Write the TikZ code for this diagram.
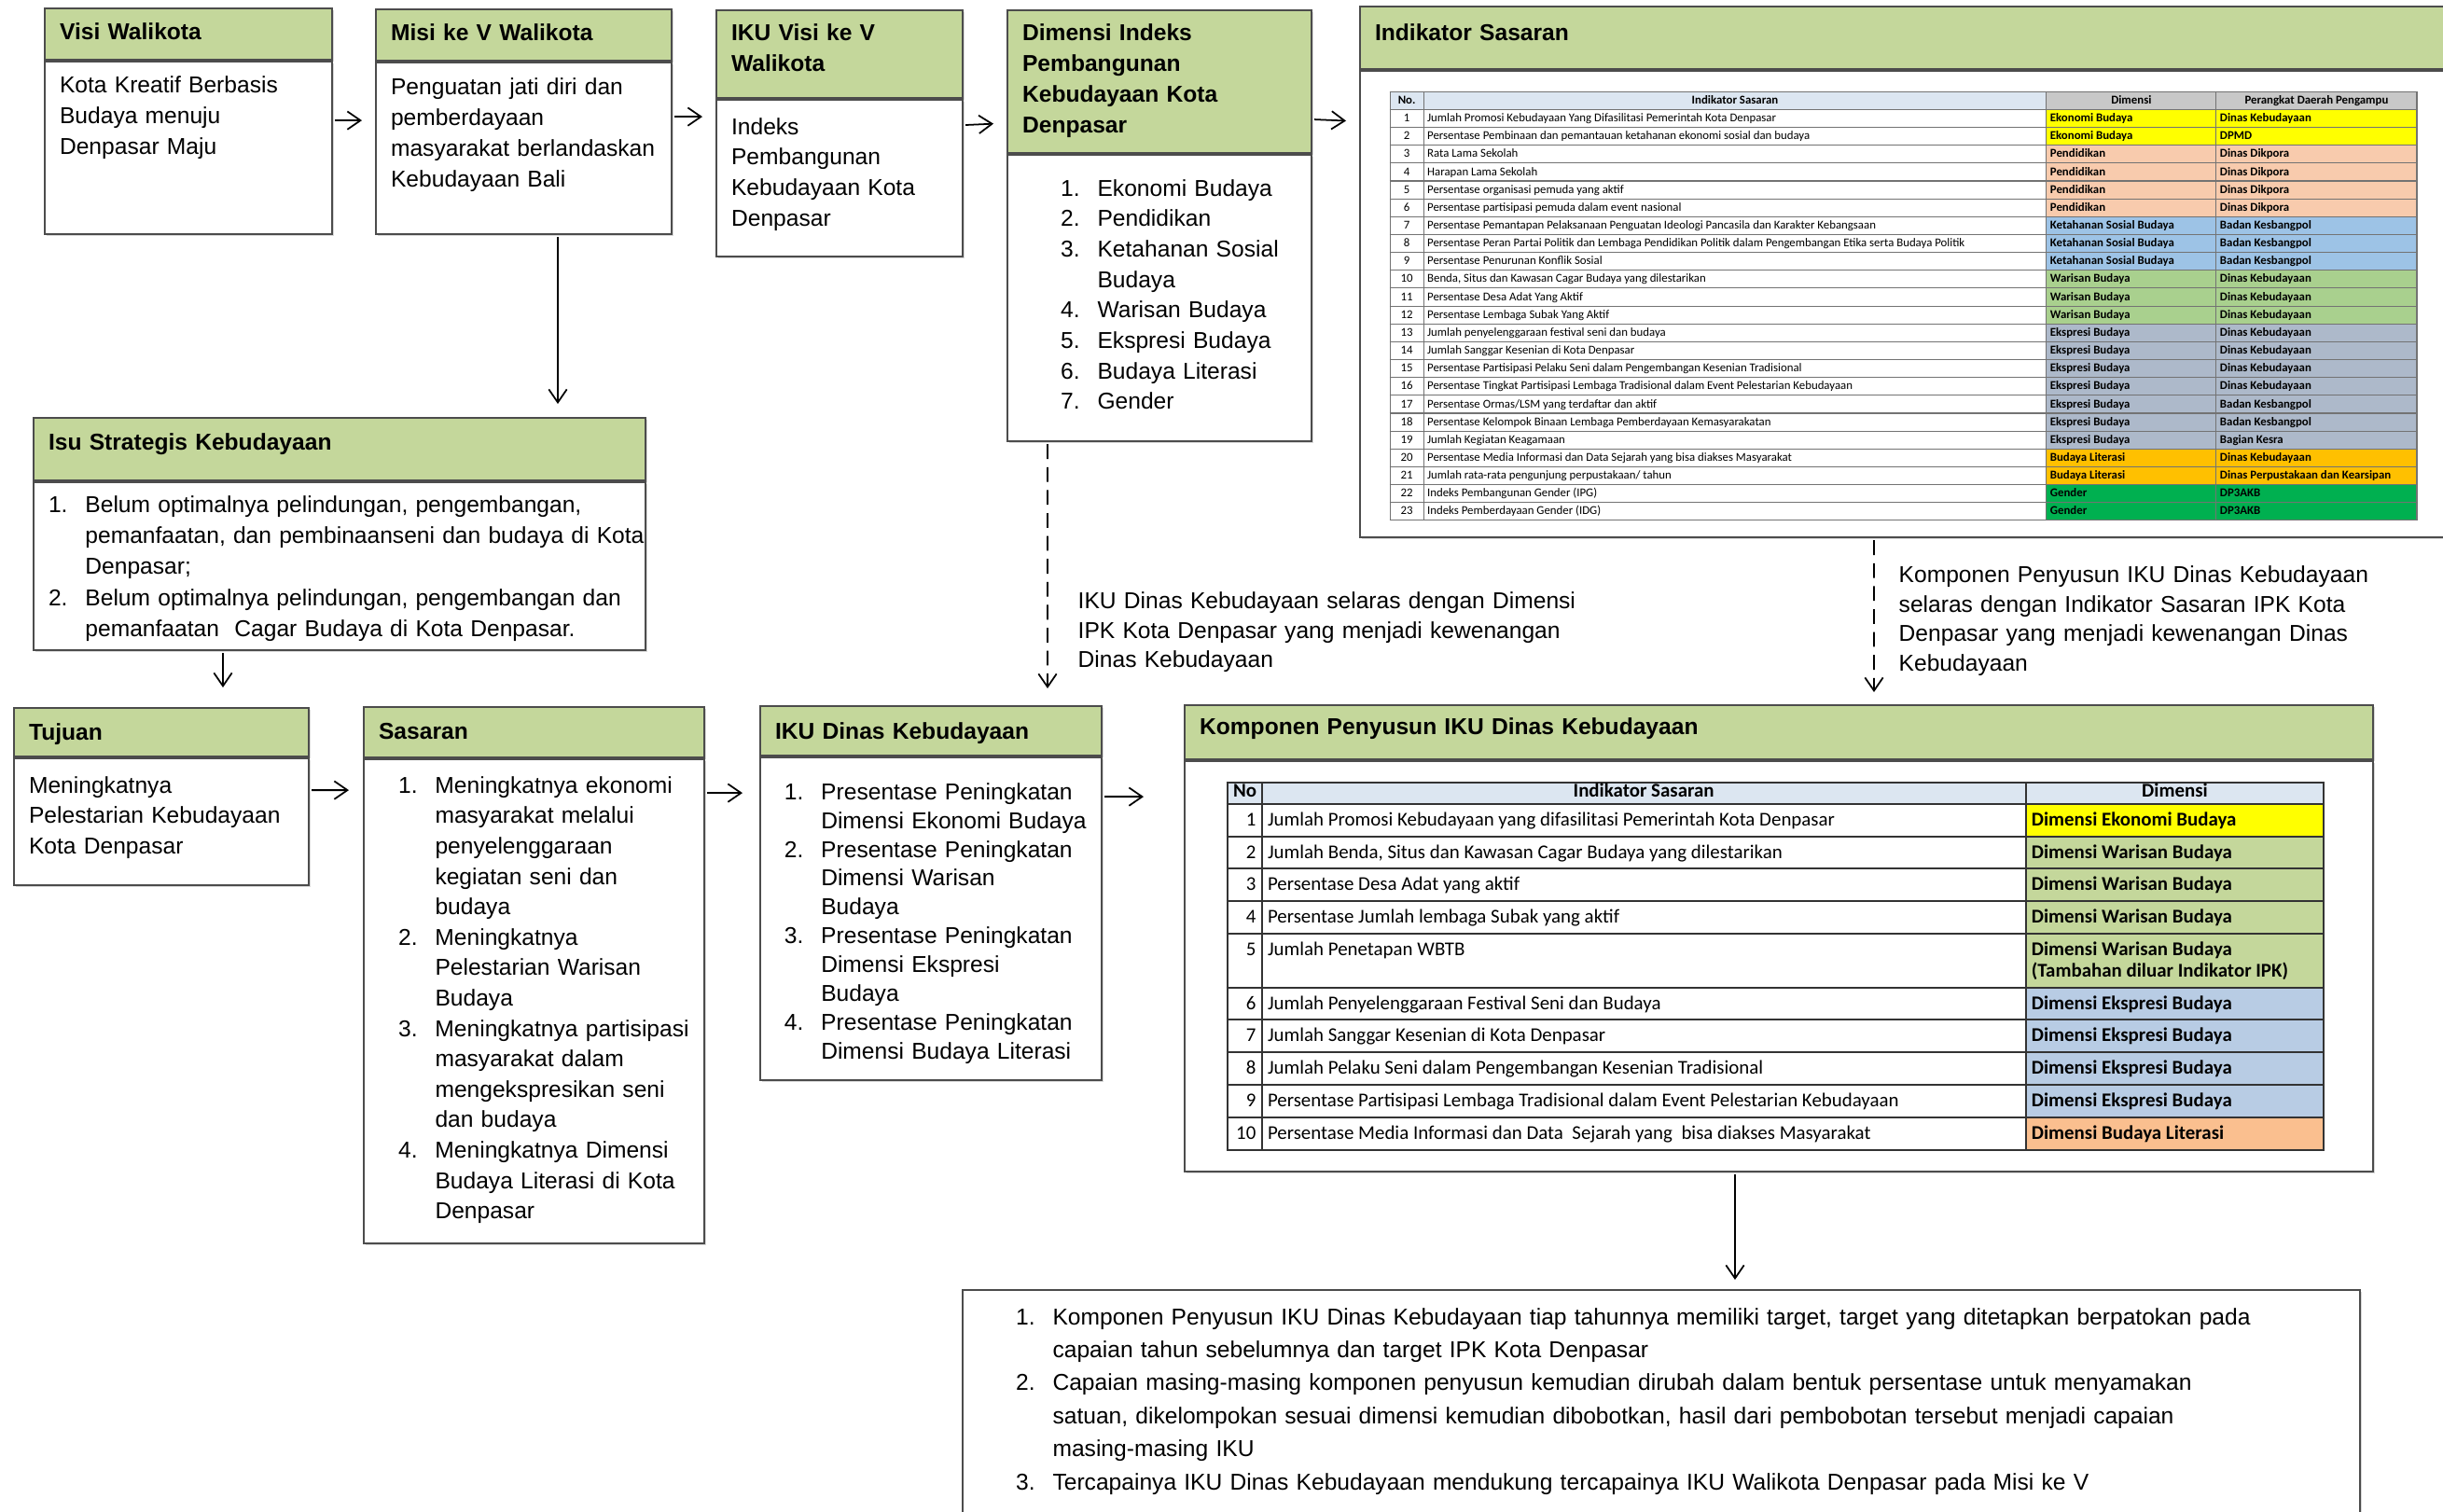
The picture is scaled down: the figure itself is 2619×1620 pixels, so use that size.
\documentclass[tikz,border=0pt]{standalone}
\usepackage{fontspec}
\setmainfont{Liberation Sans}
\newfontfamily\calfont{Carlito}
\usepackage{array}
\usepackage{colortbl}
\usetikzlibrary{positioning,arrows.meta,shadows}

\definecolor{hdgreen}{HTML}{C4D79B}
\definecolor{thead}{HTML}{DCE6F1}
\definecolor{tgray}{HTML}{C8C8C8}
\definecolor{ekon}{HTML}{FFFF00}
\definecolor{pend}{HTML}{F8CBAD}
\definecolor{ketah}{HTML}{9DC3E6}
\definecolor{waris}{HTML}{A9D08E}
\definecolor{ekspr}{HTML}{ADB9CA}
\definecolor{liter}{HTML}{FFC000}
\definecolor{gend}{HTML}{00B050}
\definecolor{warisB}{HTML}{C4D79B}
\definecolor{eksprB}{HTML}{B8CCE4}
\definecolor{literB}{HTML}{FABF8F}

\newlength\lind
\newcommand\itm[1]{\hspace*{\lind}\makebox[11.2pt][l]{#1}}
\newcommand\itc{\hspace*{\lind}\hspace*{11.2pt}}
\newcolumntype{C}[1]{>{\centering\arraybackslash}p{#1}}
\newcolumntype{R}[1]{>{\raggedleft\arraybackslash}p{#1}}
\newcommand\dcells[3]{\cellcolor{#1}\textbf{#2} & \cellcolor{#1}\textbf{#3}}
\newcommand\rowB{\rule[-2.9pt]{0pt}{9.3pt}}

\tikzstyle{hd} = [rectangle, draw=black!70, line width=0.6pt, fill=hdgreen, anchor=north west, inner xsep=1.6mm, inner ysep=0pt, align=left, font=\bfseries\fontsize{7}{9.4}\selectfont, drop shadow={shadow xshift=0.6pt, shadow yshift=-0.6pt, opacity=0.3}, execute at begin node={\rightskip=-6mm plus 1fil}]
\tikzstyle{bd} = [hd, fill=white, font=\fontsize{7}{9.4}\selectfont]
\tikzstyle{note} = [anchor=north west, inner sep=0pt, align=left, text height=2mm, font=\fontsize{7}{9}\selectfont]
\tikzstyle{arrow} = [line width=0.5pt, ->, >={Straight Barb[length=4pt,width=5.5pt]}, shorten <=0.2mm]
\tikzstyle{darrow} = [arrow, dash pattern=on 4.5pt off 2.5pt]

\begin{document}
\begin{tikzpicture}[x=0.1mm, y=-0.1mm]
\useasboundingbox (0,0) rectangle (2619,1620);

% baris atas
\node (visiH) [hd, text width=27.6mm, text height=3.3mm, text depth=2.2mm] at (47,8) {Visi Walikota};
\node (visiB) [bd, below=0pt of visiH, text width=27.6mm, text height=3.3mm, text depth=15.2mm] {Kota Kreatif Berbasis\\Budaya menuju\\Denpasar Maju};

\node (misiH) [hd, text width=28.5mm, text height=3.3mm, text depth=2.2mm] at (402,9) {Misi ke V Walikota};
\node (misiB) [bd, below=0pt of misiH, text width=28.5mm, text height=3.4mm, text depth=15mm] {Penguatan jati diri dan\\pemberdayaan\\masyarakat berlandaskan\\Kebudayaan Bali};

\node (ikuvH) [hd, text width=23.2mm, text height=3.2mm, text depth=6.2mm] at (767,10) {IKU Visi ke V\\Walikota};
\node (ikuvB) [bd, below=0pt of ikuvH, text width=23.2mm, text height=3.7mm, text depth=13.1mm, font=\fontsize{7}{9.3}\selectfont] {Indeks\\Pembangunan\\Kebudayaan Kota\\Denpasar};

\node (dimH) [hd, text width=29.4mm, text height=3.2mm, text depth=12.1mm] at (1079,10) {Dimensi Indeks\\Pembangunan\\Kebudayaan Kota\\Denpasar};
\node (dimB) [bd, below=0pt of dimH, text width=29.4mm, text height=4.4mm, text depth=26.3mm, font=\fontsize{7}{9.3}\selectfont] {\setlength\lind{11.7pt}\itm{1.}Ekonomi Budaya\\\itm{2.}Pendidikan\\\itm{3.}Ketahanan Sosial\\\itc Budaya\\\itm{4.}Warisan Budaya\\\itm{5.}Ekspresi Budaya\\\itm{6.}Budaya Literasi\\\itm{7.}Gender};

\node (indH) [hd, text width=113.4mm, text height=3.6mm, text depth=3.1mm] at (1457,6) {Indikator Sasaran};
\node (indB) [bd, below=0pt of indH, text width=113.4mm, text height=0pt, text depth=50mm] {};

\node (tblA) [anchor=north west, inner sep=0pt, font=\calfont\fontsize{3.65}{5.15}\selectfont] at (1489,97) {%
\setlength\tabcolsep{1pt}\setlength\arrayrulewidth{0.3pt}\arrayrulecolor{black!55}%
\begin{tabular}{|C{7.9pt}|p{187.7pt}|p{49.5pt}|p{58.9pt}|}
\hline
\cellcolor{thead}\textbf{No.} & \multicolumn{1}{c|}{\cellcolor{thead}\textbf{Indikator Sasaran}} & \multicolumn{1}{c|}{\cellcolor{tgray}\textbf{Dimensi}} & \multicolumn{1}{c|}{\cellcolor{tgray}\textbf{Perangkat Daerah Pengampu}}\\\hline
1 & Jumlah Promosi Kebudayaan Yang Difasilitasi Pemerintah Kota Denpasar & \dcells{ekon}{Ekonomi Budaya}{Dinas Kebudayaan}\\\hline
2 & Persentase Pembinaan dan pemantauan ketahanan ekonomi sosial dan budaya & \dcells{ekon}{Ekonomi Budaya}{DPMD}\\\hline
3 & Rata Lama Sekolah & \dcells{pend}{Pendidikan}{Dinas Dikpora}\\\hline
4 & Harapan Lama Sekolah & \dcells{pend}{Pendidikan}{Dinas Dikpora}\\\hline
5 & Persentase organisasi pemuda yang aktif & \dcells{pend}{Pendidikan}{Dinas Dikpora}\\\hline
6 & Persentase partisipasi pemuda dalam event nasional & \dcells{pend}{Pendidikan}{Dinas Dikpora}\\\hline
7 & Persentase Pemantapan Pelaksanaan Penguatan Ideologi Pancasila dan Karakter Kebangsaan & \dcells{ketah}{Ketahanan Sosial Budaya}{Badan Kesbangpol}\\\hline
8 & Persentase Peran Partai Politik dan Lembaga Pendidikan Politik dalam Pengembangan Etika serta Budaya Politik & \dcells{ketah}{Ketahanan Sosial Budaya}{Badan Kesbangpol}\\\hline
9 & Persentase Penurunan Konflik Sosial & \dcells{ketah}{Ketahanan Sosial Budaya}{Badan Kesbangpol}\\\hline
10 & Benda, Situs dan Kawasan Cagar Budaya yang dilestarikan & \dcells{waris}{Warisan Budaya}{Dinas Kebudayaan}\\\hline
11 & Persentase Desa Adat Yang Aktif & \dcells{waris}{Warisan Budaya}{Dinas Kebudayaan}\\\hline
12 & Persentase Lembaga Subak Yang Aktif & \dcells{waris}{Warisan Budaya}{Dinas Kebudayaan}\\\hline
13 & Jumlah penyelenggaraan festival seni dan budaya & \dcells{ekspr}{Ekspresi Budaya}{Dinas Kebudayaan}\\\hline
14 & Jumlah Sanggar Kesenian di Kota Denpasar & \dcells{ekspr}{Ekspresi Budaya}{Dinas Kebudayaan}\\\hline
15 & Persentase Partisipasi Pelaku Seni dalam Pengembangan Kesenian Tradisional & \dcells{ekspr}{Ekspresi Budaya}{Dinas Kebudayaan}\\\hline
16 & Persentase Tingkat Partisipasi Lembaga Tradisional dalam Event Pelestarian Kebudayaan & \dcells{ekspr}{Ekspresi Budaya}{Dinas Kebudayaan}\\\hline
17 & Persentase Ormas/LSM yang terdaftar dan aktif & \dcells{ekspr}{Ekspresi Budaya}{Badan Kesbangpol}\\\hline
18 & Persentase Kelompok Binaan Lembaga Pemberdayaan Kemasyarakatan & \dcells{ekspr}{Ekspresi Budaya}{Badan Kesbangpol}\\\hline
19 & Jumlah Kegiatan Keagamaan & \dcells{ekspr}{Ekspresi Budaya}{Bagian Kesra}\\\hline
20 & Persentase Media Informasi dan Data  Sejarah yang  bisa diakses Masyarakat & \dcells{liter}{Budaya Literasi}{Dinas Kebudayaan}\\\hline
21 & Jumlah rata-rata pengunjung perpustakaan/ tahun & \dcells{liter}{Budaya Literasi}{Dinas Perpustakaan dan Kearsipan}\\\hline
22 & Indeks Pembangunan Gender (IPG) & \dcells{gend}{Gender}{DP3AKB}\\\hline
23 & Indeks Pemberdayaan Gender (IDG) & \dcells{gend}{Gender}{DP3AKB}\\\hline
\end{tabular}};

% baris tengah
\node (isuH) [hd, text width=62.4mm, text height=3.4mm, text depth=3.3mm] at (35,447) {Isu Strategis Kebudayaan};
\node (isuB) [bd, below=0pt of isuH, text width=62.4mm, text height=3.2mm, text depth=14.8mm, font=\fontsize{7}{9.5}\selectfont] {\setlength\lind{0pt}\itm{1.}Belum optimalnya pelindungan, pengembangan,\\\itc pemanfaatan, dan pembinaanseni dan budaya di Kota\\\itc Denpasar;\\\itm{2.}\makebox[166pt][s]{Belum optimalnya pelindungan, pengembangan dan}\\\itc pemanfaatan\ \ Cagar Budaya di Kota Denpasar.};

\node (ann1) [note, text width=56mm] at (1155,632) {IKU Dinas Kebudayaan selaras dengan Dimensi\\IPK Kota Denpasar yang menjadi kewenangan\\Dinas Kebudayaan};
\node (ann2) [note, text width=55mm] at (2035,604) {Komponen Penyusun IKU Dinas Kebudayaan\\selaras dengan Indikator Sasaran IPK Kota\\Denpasar yang menjadi kewenangan Dinas\\Kebudayaan};

% baris bawah
\node (tujH) [hd, text width=28.4mm, text height=3.4mm, text depth=1.8mm] at (14,758) {Tujuan};
\node (tujB) [bd, below=0pt of tujH, text width=28.4mm, text height=3.7mm, text depth=9.9mm, font=\fontsize{7}{9.25}\selectfont] {Meningkatnya\\Pelestarian Kebudayaan\\Kota Denpasar};

\node (sasH) [hd, text width=33.3mm, text height=3.4mm, text depth=2mm] at (389,757) {Sasaran};
\node (sasB) [bd, below=0pt of sasH, text width=33.3mm, text height=3.6mm, text depth=48.3mm, font=\fontsize{7}{9.28}\selectfont] {\setlength\lind{6pt}\itm{1.}Meningkatnya ekonomi\\\itc masyarakat melalui\\\itc penyelenggaraan\\\itc kegiatan seni dan\\\itc budaya\\\itm{2.}Meningkatnya\\\itc Pelestarian Warisan\\\itc Budaya\\\itm{3.}Meningkatnya partisipasi\\\itc masyarakat dalam\\\itc mengekspresikan seni\\\itc dan budaya\\\itm{4.}Meningkatnya Dimensi\\\itc Budaya Literasi di Kota\\\itc Denpasar};

\node (ikudH) [hd, text width=33.4mm, text height=3.5mm, text depth=1.8mm] at (814,756) {IKU Dinas Kebudayaan};
\node (ikudB) [bd, below=0pt of ikudH, text width=33.4mm, text height=4.5mm, text depth=30.1mm, font=\fontsize{7}{8.8}\selectfont] {\setlength\lind{2.8pt}\itm{1.}Presentase Peningkatan\\\itc Dimensi Ekonomi Budaya\\\itm{2.}Presentase Peningkatan\\\itc Dimensi Warisan\\\itc Budaya\\\itm{3.}Presentase Peningkatan\\\itc Dimensi Ekspresi\\\itc Budaya\\\itm{4.}Presentase Peningkatan\\\itc Dimensi Budaya Literasi};

\node (kompH) [hd, text width=124.2mm, text height=3.1mm, text depth=2.7mm] at (1269,755) {Komponen Penyusun IKU Dinas Kebudayaan};
\node (kompB) [bd, below=0pt of kompH, text width=124.2mm, text height=0pt, text depth=44mm] {};

\node (tblB) [anchor=north west, inner sep=0pt, font=\calfont\fontsize{5.95}{6.6}\selectfont] at (1314,837) {%
\setlength\tabcolsep{1.5pt}\setlength\arrayrulewidth{0.6pt}\arrayrulecolor{black!80}\renewcommand\arraystretch{0.9}%
\begin{tabular}{|R{6.9pt}|p{229.4pt}|p{87.4pt}|}
\hline
\rowcolor{thead}\textbf{No} & \multicolumn{1}{c|}{\textbf{Indikator Sasaran}} & \multicolumn{1}{c|}{\textbf{Dimensi}}\\\hline
\rowB 1 & Jumlah Promosi Kebudayaan yang difasilitasi Pemerintah Kota Denpasar & \cellcolor{ekon}\textbf{Dimensi Ekonomi Budaya}\\\hline
\rowB 2 & Jumlah Benda, Situs dan Kawasan Cagar Budaya yang dilestarikan & \cellcolor{warisB}\textbf{Dimensi Warisan Budaya}\\\hline
\rowB 3 & Persentase Desa Adat yang aktif & \cellcolor{warisB}\textbf{Dimensi Warisan Budaya}\\\hline
\rowB 4 & Persentase Jumlah lembaga Subak yang aktif & \cellcolor{warisB}\textbf{Dimensi Warisan Budaya}\\\hline
\rule[-9.4pt]{0pt}{15.8pt}5 & Jumlah Penetapan WBTB & \cellcolor{warisB}\textbf{Dimensi Warisan Budaya\newline (Tambahan diluar Indikator IPK)}\\\hline
\rowB 6 & Jumlah Penyelenggaraan Festival Seni dan Budaya & \cellcolor{eksprB}\textbf{Dimensi Ekspresi Budaya}\\\hline
\rowB 7 & Jumlah Sanggar Kesenian di Kota Denpasar & \cellcolor{eksprB}\textbf{Dimensi Ekspresi Budaya}\\\hline
\rowB 8 & Jumlah Pelaku Seni dalam Pengembangan Kesenian Tradisional & \cellcolor{eksprB}\textbf{Dimensi Ekspresi Budaya}\\\hline
\rowB 9 & Persentase Partisipasi Lembaga Tradisional dalam Event Pelestarian Kebudayaan & \cellcolor{eksprB}\textbf{Dimensi Ekspresi Budaya}\\\hline
\rowB 10 & Persentase Media Informasi dan Data\ \ Sejarah yang\ \ bisa diakses Masyarakat & \cellcolor{literB}\textbf{Dimensi Budaya Literasi}\\\hline
\end{tabular}};

\node (finB) [bd, text width=146.6mm, text height=3.7mm, text depth=20.6mm, font=\fontsize{7}{10.07}\selectfont] at (1031,1382) {\setlength\lind{11.7pt}\itm{1.}Komponen Penyusun IKU Dinas Kebudayaan tiap tahunnya memiliki target, target yang ditetapkan berpatokan pada\\\itc capaian tahun sebelumnya dan target IPK Kota Denpasar\\\itm{2.}Capaian masing-masing komponen penyusun kemudian dirubah dalam bentuk persentase untuk menyamakan\\\itc satuan, dikelompokan sesuai dimensi kemudian dibobotkan, hasil dari pembobotan tersebut menjadi capaian\\\itc masing-masing IKU\\\itm{3.}Tercapainya IKU Dinas Kebudayaan mendukung tercapainya IKU Walikota Denpasar pada Misi ke V};

% panah
\draw [arrow, shorten >=1.4mm] ([yshift=-6.4mm]visiB.north east) -- ([yshift=-6.3mm]misiB.north west);
\draw [arrow, shorten >=1.4mm] ([yshift=-5.9mm]misiB.north east) -- ([yshift=-1.9mm]ikuvB.north west);
\draw [arrow, shorten >=1.4mm] ([yshift=-2.8mm]ikuvB.north east) -- ([yshift=-12.2mm]dimH.north west);
\draw [arrow, shorten >=1.4mm] ([yshift=-11.8mm]dimH.north east) -- ([yshift=-5.5mm]indB.north west);
\draw [arrow, shorten >=1.4mm] ([xshift=19.6mm]misiB.south west) -- ([xshift=56.3mm]isuH.north west);
\draw [arrow, shorten >=2.1mm] ([xshift=20.4mm]isuB.south west) -- ([xshift=22.5mm]tujH.north west);
\draw [arrow, shorten >=1.5mm] ([yshift=-3.5mm]tujB.north east) -- ([yshift=-3.4mm]sasB.north west);
\draw [arrow, shorten >=1.8mm] ([yshift=-3.7mm]sasB.north east) -- ([yshift=-3.9mm]ikudB.north west);
\draw [arrow, shorten >=4.3mm] ([yshift=-4.3mm]ikudB.north east) -- ([yshift=-3.9mm]kompB.north west);
\draw [darrow, shorten >=1.8mm] ([xshift=4.4mm]dimB.south west) -- ([xshift=30.9mm]ikudH.north west);
\draw [darrow, shorten >=1.3mm] ([xshift=55.2mm]indB.south west) -- ([xshift=74mm]kompH.north west);
\draw [arrow, shorten >=1mm] ([xshift=59.1mm]kompB.south west) -- ([xshift=82.9mm]finB.north west);
\end{tikzpicture}
\end{document}
